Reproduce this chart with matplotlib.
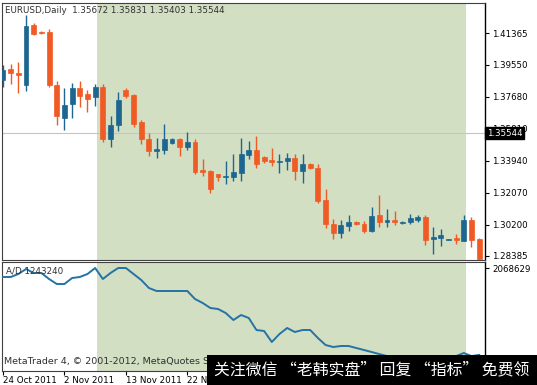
import matplotlib
matplotlib.use("Agg")
import matplotlib.pyplot as plt
import matplotlib.transforms as mtransforms
from matplotlib.patches import Rectangle

# EURUSD daily candles (open, high, low, close)
opens = [1.3863, 1.3927, 1.3904, 1.3834, 1.4185, 1.4144, 1.4144, 1.3834, 1.3646, 1.3723,
         1.3816, 1.3781, 1.3764, 1.3822, 1.3518, 1.3600, 1.3805, 1.3775, 1.3617, 1.3523,
         1.3448, 1.3459, 1.3500, 1.3523, 1.3477, 1.3506, 1.3342, 1.3336, 1.3319, 1.3301,
         1.3301, 1.3325, 1.3430, 1.3459, 1.3418, 1.3401, 1.3389, 1.3395, 1.3412, 1.3336,
         1.3377, 1.3354, 1.3167, 1.3026, 1.2974, 1.3014, 1.3038, 1.3026, 1.2985, 1.3079,
         1.3038, 1.3050, 1.3032, 1.3038, 1.3050, 1.3067, 1.2938, 1.2944, 1.2932, 1.2944,
         1.2927, 1.3050, 1.2938]
highs = [1.3951, 1.3957, 1.3968, 1.4244, 1.4197, 1.4150, 1.4162, 1.3857, 1.3816, 1.3846,
         1.3857, 1.3805, 1.3840, 1.3840, 1.3652, 1.3793, 1.3816, 1.3781, 1.3629, 1.3553,
         1.3529, 1.3611, 1.3529, 1.3529, 1.3564, 1.3523, 1.3407, 1.3342, 1.3319, 1.3395,
         1.3436, 1.3529, 1.3512, 1.3541, 1.3424, 1.3471, 1.3436, 1.3442, 1.3436, 1.3436,
         1.3383, 1.3377, 1.3231, 1.3055, 1.3050, 1.3079, 1.3044, 1.3044, 1.3126, 1.3196,
         1.3114, 1.3102, 1.3044, 1.3085, 1.3079, 1.3079, 1.3009, 1.2997, 1.2938, 1.2968,
         1.3079, 1.3067, 1.2944]
lows = [1.3822, 1.3840, 1.3787, 1.3799, 1.4126, 1.4132, 1.3822, 1.3600, 1.3576, 1.3646,
        1.3705, 1.3676, 1.3711, 1.3506, 1.3477, 1.3570, 1.3758, 1.3588, 1.3494, 1.3424,
        1.3412, 1.3436, 1.3494, 1.3424, 1.3459, 1.3319, 1.3307, 1.3208, 1.3278, 1.3260,
        1.3278, 1.3278, 1.3407, 1.3354, 1.3383, 1.3366, 1.3325, 1.3342, 1.3284, 1.3266,
        1.3348, 1.3149, 1.3003, 1.2938, 1.2944, 1.2985, 1.3020, 1.2974, 1.2979, 1.3009,
        1.3009, 1.3020, 1.3026, 1.3026, 1.3038, 1.2903, 1.2850, 1.2897, 1.2932, 1.2909,
        1.2927, 1.2891, 1.2798]
closes = [1.3922, 1.3904, 1.3892, 1.4179, 1.4132, 1.4138, 1.3834, 1.3652, 1.3717, 1.3816,
          1.3769, 1.3752, 1.3822, 1.3523, 1.3605, 1.3746, 1.3769, 1.3611, 1.3523, 1.3448,
          1.3465, 1.3518, 1.3523, 1.3477, 1.3506, 1.3331, 1.3331, 1.3231, 1.3301, 1.3307,
          1.3331, 1.3436, 1.3459, 1.3377, 1.3395, 1.3389, 1.3395, 1.3412, 1.3336, 1.3377,
          1.3354, 1.3161, 1.3026, 1.2974, 1.3020, 1.3038, 1.3026, 1.2985, 1.3073, 1.3038,
          1.3050, 1.3038, 1.3038, 1.3061, 1.3067, 1.2932, 1.2950, 1.2962, 1.2938, 1.2932,
          1.3050, 1.2932, 1.2821]

# Accumulation/Distribution indicator
ad = [1983100, 1983100, 2011600, 2059100, 2021100, 2021100, 1964100, 1916600, 1916600, 1973600,
      1983100, 2011600, 2068600, 1964100, 2021100, 2068600, 2068600, 2011600, 1954600, 1878600,
      1850100, 1850100, 1850100, 1850100, 1850100, 1774100, 1736100, 1688600, 1679100, 1641100,
      1574600, 1622100, 1593600, 1479600, 1470100, 1365600, 1441600, 1498600, 1460600, 1479600,
      1479600, 1403600, 1337100, 1318100, 1327600, 1327600, 1308600, 1289600, 1270600, 1251000,
      1232000, 1222500, 1213000, 1213000, 1203500, 1175000, 1194000, 1203500, 1213000, 1232000,
      1261100, 1232000, 1243240]

date_idx = [0, 8, 16, 24]
date_labels = ["24 Oct 2011", "2 Nov 2011", "13 Nov 2011", "22 Nov 2011"]
price_ticks = [1.41365, 1.39550, 1.37680, 1.35810, 1.33940, 1.32070, 1.30200, 1.28385]
last_price = 1.35544
shade_from, shade_to = 12.24, 60.3

W, H = 537, 385
UP = "#1c6690"
DOWN = "#f05a24"
SHADE = "#d3dfc3"


def px_box(x0, y0, x1, y1):
    return [x0 / W, 1 - y1 / H, (x1 - x0) / W, (y1 - y0) / H]


fig = plt.figure(figsize=(W / 100, H / 100), dpi=100)
plt.rcParams["font.family"] = ["DejaVu Sans"]

ax = fig.add_axes(px_box(2, 3, 485, 260))
ax2 = fig.add_axes(px_box(2, 262, 485, 371), sharex=ax)

for a in (ax, ax2):
    a.axvspan(shade_from, shade_to, color=SHADE, lw=0, zorder=0)
    for s in a.spines.values():
        s.set_color("#404040")
        s.set_linewidth(0.8)
    a.spines["right"].set_color("black")
    a.spines["right"].set_linewidth(1.0)
    a.yaxis.tick_right()
    a.tick_params(axis="y", direction="out", length=3, width=0.8, pad=2,
                  labelsize=6.2, colors="black")

ax.axhline(last_price, color="#c4c4c4", lw=0.8, zorder=1)

for i in range(len(opens)):
    o, h, l, c = opens[i], highs[i], lows[i], closes[i]
    col = UP if c >= o else DOWN
    ax.vlines(i, l, h, color=col, lw=1.0, zorder=2)
    ax.bar(i, max(abs(c - o), 0.0002), bottom=min(o, c), width=0.64,
           color=col, edgecolor=col, lw=0.5, zorder=3)

ax.set_xlim(-0.13, 62.76)
ax.set_ylim(1.28151, 1.43139)
ax.set_yticks(price_ticks)
ax.set_yticklabels([f"{p:.5f}" for p in price_ticks])
ax.tick_params(axis="x", bottom=False, labelbottom=False)

ax.text(0.006, 0.988, "EURUSD,Daily  1.35672 1.35831 1.35403 1.35544",
        transform=ax.transAxes, va="top", ha="left", fontsize=6.3, color="#303030")

trans = mtransforms.blended_transform_factory(ax.transAxes, ax.transData)
ax.text(1.004, last_price, "1.35544", transform=trans, va="center", ha="left",
        fontsize=6.2, color="white", zorder=5, clip_on=False,
        bbox=dict(boxstyle="square,pad=0.2", fc="black", ec="black"))

ax2.plot(range(len(ad)), ad, color="#2473a4", lw=1.4, zorder=3)
ax2.set_ylim(1090129, 2125629)
ax2.set_yticks([2068629])
ax2.set_yticklabels(["2068629"])
ax2.text(0.008, 0.92, "A/D 1243240", transform=ax2.transAxes, va="center",
         ha="left", fontsize=6.3, color="#303030", zorder=4)
ax2.text(0.004, 0.09, "MetaTrader 4, \u00a9 2001-2012, MetaQuotes Software Corp.",
         transform=ax2.transAxes, va="center", ha="left", fontsize=6.8,
         color="#303030", zorder=4)
ax2.set_xticks(date_idx)
ax2.set_xticklabels(date_labels)
ax2.tick_params(axis="x", direction="out", length=3, width=0.8, pad=0.5,
                labelsize=6.3, colors="black")
plt.setp(ax2.get_xticklabels(), ha="left")

# watermark banner over the bottom right
fig.add_artist(Rectangle((207 / W, 0), 1 - 207 / W, 30 / H, transform=fig.transFigure,
                         facecolor="black", edgecolor="none", zorder=10))
fig.text(214 / W, 15 / H, "关注微信 “老韩实盘” 回复 “指标” 免费领",
         family=["Noto Sans CJK SC", "DejaVu Sans"], fontsize=11.4, color="white",
         va="center", ha="left", zorder=11)

fig.savefig("out.png", dpi=100)
